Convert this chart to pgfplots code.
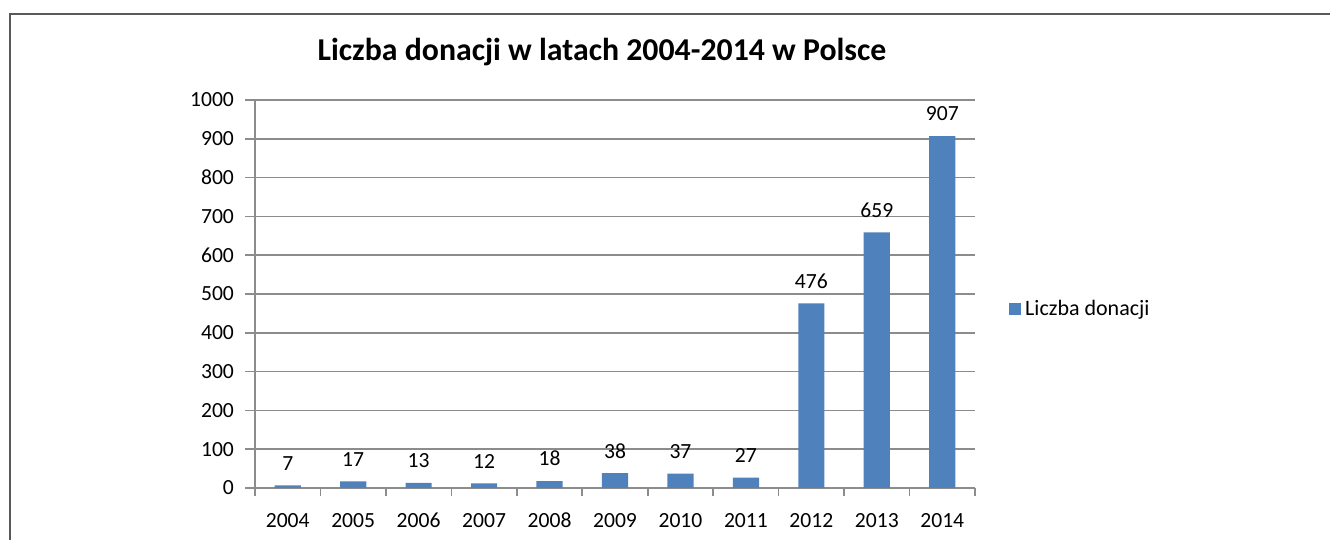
\documentclass[border=0pt]{standalone}
\usepackage{pgfplots}
\pgfplotsset{compat=1.18}
\usepackage{fontspec}
\setmainfont{Carlito}
\definecolor{barblue}{HTML}{4F81BD}
\definecolor{gridgray}{HTML}{8C8C8C}
\begin{document}
\begin{tikzpicture}
\useasboundingbox (0pt,0pt) rectangle (665pt,270pt);
\draw[line width=1pt, color=black!65] (5pt,-5pt) -- (5pt,263pt) -- (670pt,263pt);
\node[font=\fontsize{15.9}{19}\selectfont\bfseries] at (301pt,244pt) {Liczba donacji w latach 2004-2014 w Polsce};
\begin{axis}[
  at={(127.5pt,26pt)}, anchor=south west,
  scale only axis, width=360pt, height=194pt,
  xmin=-0.5, xmax=10.5, ymin=0, ymax=1000,
  axis line style={gridgray, line width=0.8pt},
  axis x line=bottom, axis y line=left,
  x axis line style={-}, y axis line style={-},
  xtick={0,...,10},
  xticklabels={2004,2005,2006,2007,2008,2009,2010,2011,2012,2013,2014},
  major x tick style={draw=none},
  minor xtick={-0.5,0.5,...,10.5},
  minor x tick style={gridgray, line width=0.8pt},
  ytick={0,100,...,1000},
  y tick style={gridgray, line width=0.8pt},
  tick align=outside,
  major tick length=5pt, minor tick length=4pt,
  ymajorgrids, grid style={gridgray, line width=0.8pt},
  /pgf/number format/assume math mode=true,
  /pgf/number format/1000 sep={},
  tick label style={font=\fontsize{10.8}{13}\selectfont, black},
  xticklabel style={yshift=-4pt},
  yticklabel style={xshift=-2pt},
  legend style={at={(1.047,0.461)}, anchor=west, draw=none, fill=none,
    font=\fontsize{11}{13}\selectfont, inner sep=0pt},
  legend image code/.code={\fill[barblue] (0pt,-3pt) rectangle (6pt,3pt);},
  legend cell align=left,
  nodes near coords,
  every node near coord/.append style={font=\fontsize{10.8}{13}\selectfont, black, yshift=4pt},
  clip=false,
]
\addplot[ybar, bar width=0.4, fill=barblue, draw=none] coordinates {
  (0,7) (1,17) (2,13) (3,12) (4,18) (5,38) (6,37) (7,27) (8,476) (9,659) (10,907)
};
\addlegendentry{Liczba donacji}
\end{axis}
\end{tikzpicture}
\end{document}
